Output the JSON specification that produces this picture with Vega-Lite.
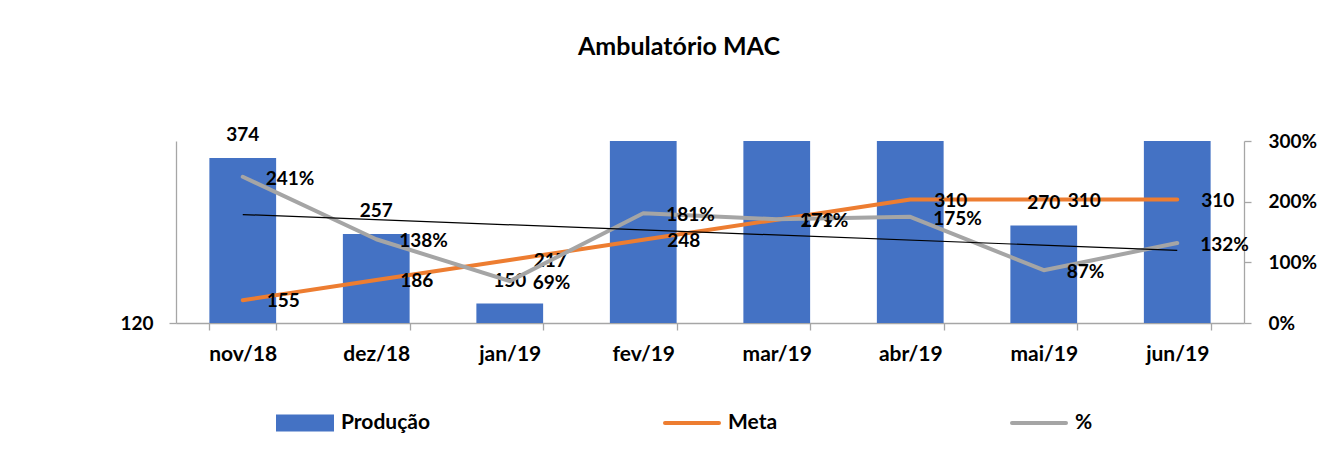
{
  "$schema": "https://vega.github.io/schema/vega-lite/v6.json",
  "width": 1068,
  "height": 182,
  "autosize": {"type": "none"},
  "padding": {"left": 176, "top": 141, "right": 86, "bottom": 133},
  "background": "white",
  "title": {
    "text": "Ambulatório MAC",
    "anchor": "middle",
    "dx": -31,
    "fontSize": 25,
    "fontWeight": "bold",
    "font": "Lato",
    "color": "#000000",
    "baseline": "alphabetic",
    "offset": 46
  },
  "config": {
    "font": "Lato",
    "view": {"stroke": null},
    "axis": {
      "labelFont": "Lato",
      "labelFontSize": 19,
      "labelFontWeight": "bold",
      "labelColor": "#000000",
      "domainColor": "#A6A6A6",
      "tickColor": "#A6A6A6",
      "domainWidth": 1.3,
      "tickWidth": 1.3,
      "grid": false,
      "title": null
    },
    "legend": {
      "labelFont": "Lato",
      "labelFontSize": 21,
      "labelFontWeight": "bold",
      "labelColor": "#000000"
    }
  },
  "data": {
    "values": [
      {"mes": "nov/18", "producao": 374, "meta": 155, "pct": 2.41, "tend": 1.788},
      {"mes": "dez/18", "producao": 257, "meta": 186, "pct": 1.38, "tend": null},
      {"mes": "jan/19", "producao": 150, "meta": 217, "pct": 0.69, "tend": null},
      {"mes": "fev/19", "producao": 449, "meta": 248, "pct": 1.81, "tend": null},
      {"mes": "mar/19", "producao": 477, "meta": 279, "pct": 1.71, "tend": null},
      {"mes": "abr/19", "producao": 543, "meta": 310, "pct": 1.75, "tend": null},
      {"mes": "mai/19", "producao": 270, "meta": 310, "pct": 0.87, "tend": null},
      {"mes": "jun/19", "producao": 409, "meta": 310, "pct": 1.32, "tend": 1.197}
    ]
  },
  "encoding": {
    "x": {
      "field": "mes",
      "type": "nominal",
      "sort": null,
      "scale": {"paddingInner": 0.5, "paddingOuter": 0.25},
      "axis": {
        "labelAngle": 0,
        "labelFontSize": 21,
        "tickBand": "extent",
        "tickSize": 7,
        "labelPadding": 13
      }
    }
  },
  "layer": [
    {
      "layer": [
        {
          "mark": {"type": "bar", "clip": true, "color": "#4472C4"},
          "encoding": {
            "y": {
              "field": "producao",
              "type": "quantitative",
              "scale": {"domain": [120, 400], "nice": false, "zero": false},
              "axis": {"values": [120], "tickSize": 7, "labelPadding": 16, "labelBaseline": "middle"}
            },
            "color": {
              "datum": "Produção",
              "type": "nominal",
              "scale": {"domain": ["Produção", "Meta", "%"], "range": ["#4472C4", "#ED7D31", "#A5A5A5"]},
              "legend": {
                "title": null,
                "orient": "none",
                "direction": "horizontal",
                "legendX": 100,
                "legendY": 253,
                "gridAlign": "none",
                "columnPadding": 226,
                "labelOffset": 7,
                "symbolSize": 2916,
                "encode": {
                  "symbols": {
                    "update": {
                      "shape": {"signal": "datum.value === 'Produção' ? 'M-1,-0.24H1V0.24H-1Z' : 'stroke'"},
                      "fill": {"signal": "datum.value === 'Produção' ? '#4472C4' : 'transparent'"},
                      "stroke": {"signal": "datum.value === 'Produção' ? 'transparent' : (datum.value === 'Meta' ? '#ED7D31' : '#A5A5A5')"},
                      "strokeWidth": {"value": 4},
                      "strokeCap": {"value": "round"},
                      "size": {"value": 2916},
                      "opacity": {"value": 1}
                    }
                  }
                }
              }
            }
          }
        },
        {
          "mark": {"type": "line", "color": "#ED7D31", "strokeWidth": 4, "strokeCap": "round", "strokeJoin": "round"},
          "encoding": {
            "y": {"field": "meta", "type": "quantitative"},
            "color": {"datum": "Meta", "type": "nominal"}
          }
        },
        {
          "transform": [{"filter": "datum.producao <= 400"}],
          "mark": {"type": "text", "fontSize": 19, "fontWeight": "bold", "color": "#000000", "baseline": "alphabetic", "dy": -17},
          "encoding": {
            "y": {"field": "producao", "type": "quantitative"},
            "text": {"field": "producao", "type": "quantitative"}
          }
        },
        {
          "mark": {"type": "text", "fontSize": 19, "fontWeight": "bold", "color": "#000000", "align": "left", "baseline": "middle", "dx": 24, "dy": 1},
          "encoding": {
            "y": {"field": "meta", "type": "quantitative"},
            "text": {"field": "meta", "type": "quantitative"}
          }
        }
      ]
    },
    {
      "layer": [
        {
          "mark": {"type": "line", "color": "#A5A5A5", "strokeWidth": 4, "strokeCap": "round", "strokeJoin": "round"},
          "encoding": {
            "y": {
              "field": "pct",
              "type": "quantitative",
              "scale": {"domain": [0, 3], "nice": false},
              "axis": {"orient": "right", "values": [0, 0.5, 1, 1.5, 2, 2.5, 3], "format": ".0%", "tickSize": 7, "labelPadding": 17}
            },
            "color": {"datum": "%", "type": "nominal"}
          }
        },
        {
          "transform": [{"filter": "isValid(datum.tend)"}],
          "mark": {"type": "line", "color": "#000000", "strokeWidth": 1.2},
          "encoding": {
            "y": {"field": "tend", "type": "quantitative"}
          }
        },
        {
          "mark": {"type": "text", "fontSize": 19, "fontWeight": "bold", "color": "#000000", "align": "left", "baseline": "middle", "dx": 23, "dy": 2},
          "encoding": {
            "y": {"field": "pct", "type": "quantitative"},
            "text": {"field": "pct", "type": "quantitative", "format": ".0%"}
          }
        }
      ]
    }
  ],
  "resolve": {"scale": {"y": "independent"}}
}
